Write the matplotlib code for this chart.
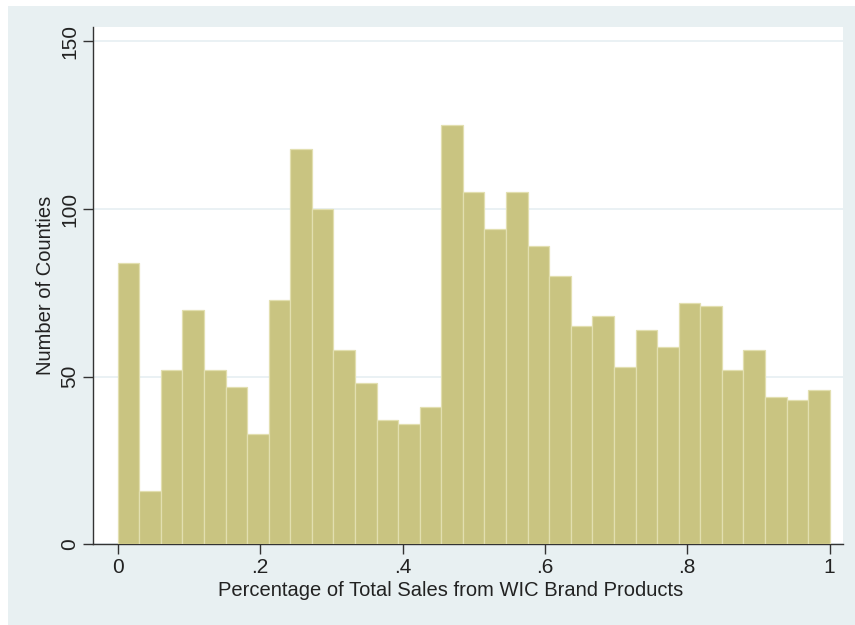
import numpy as np
import matplotlib.pyplot as plt
from matplotlib.patches import Rectangle

plt.rcParams['font.family'] = ['Liberation Sans', 'DejaVu Sans']

# histogram counts, 33 equal bins on [0, 1]
counts = [84, 16, 52, 70, 52, 47, 33, 73, 118, 100, 58, 48, 37, 36, 41,
          125, 105, 94, 105, 89, 80, 65, 68, 53, 64, 59, 72, 71, 52, 58,
          44, 43, 46]
bin_lo, bin_hi = 0.0, 1.0
xticks = [0, 0.2, 0.4, 0.6, 0.8, 1.0]
xticklabels = ["0", ".2", ".4", ".6", ".8", "1"]
yticks = [0, 50, 100, 150]

BG = "#E8F0F2"
BAR = "#C9C481"
EDGE = "#E2DFB0"

fig = plt.figure(figsize=(8.55, 6.25), dpi=100)
fig.patch.set_facecolor("white")
fig.patches.append(Rectangle((8 / 855, 0), 1, 1 - 6 / 625, transform=fig.transFigure,
                             facecolor=BG, edgecolor="none", zorder=-10))

ax = fig.add_axes([93.3 / 855, (625 - 544.3) / 625, (843 - 93.3) / 855, (544.3 - 26.7) / 625])
ax.set_facecolor("white")

edges = np.linspace(bin_lo, bin_hi, len(counts) + 1)
width = edges[1] - edges[0]
ax.bar(edges[:-1], counts, width=width, align="edge", color=BAR,
       edgecolor=EDGE, linewidth=0.9, zorder=3)

ax.set_xlim(-0.0343, 1.0187)
ax.set_ylim(0, 154.4)
ax.set_yticks(yticks)
ax.set_yticklabels([str(v) for v in yticks], rotation=90, va="center")
ax.set_xticks(xticks)
ax.set_xticklabels(xticklabels)
ax.yaxis.grid(True, color="#E6EFF2", linewidth=1.2, zorder=0)
ax.set_axisbelow(True)

for s in ["top", "right"]:
    ax.spines[s].set_visible(False)
for s in ["left", "bottom"]:
    ax.spines[s].set_color("#333333")
    ax.spines[s].set_linewidth(1.0)

ax.tick_params(axis="both", direction="out", length=7, width=1.0,
               color="#333333", labelsize=15, labelcolor="#222222", pad=3)
ax.set_xlabel("Percentage of Total Sales from WIC Brand Products",
              fontsize=14.5, color="#222222", labelpad=2)
ax.xaxis.set_label_coords(0.476, -0.071)
ax.set_ylabel("Number of Counties", fontsize=14.5, color="#222222", labelpad=4)

fig.savefig("out.png", dpi=100, facecolor=fig.get_facecolor())
